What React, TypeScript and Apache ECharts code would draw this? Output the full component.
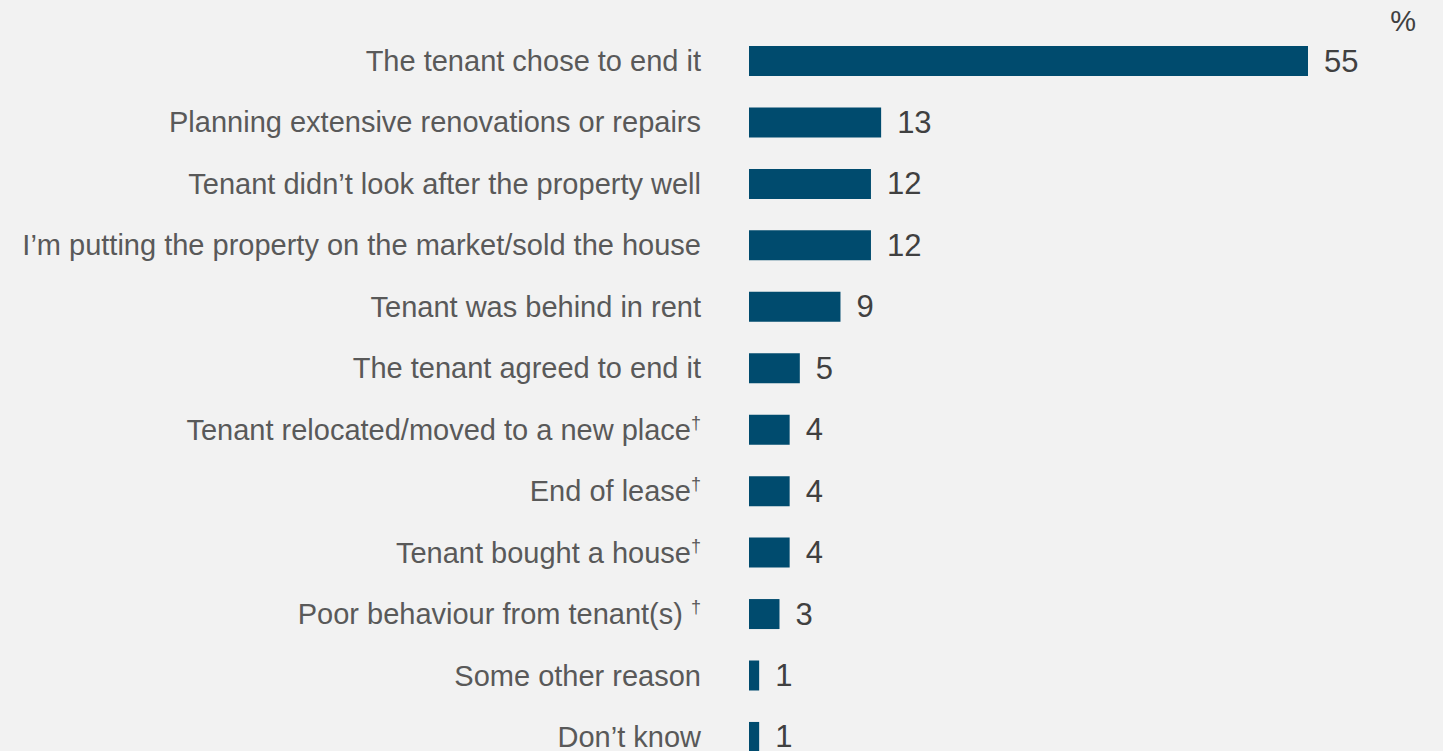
import React, { useEffect, useRef } from "react";
import * as echarts from "echarts";

const categories = [
  "The tenant chose to end it",
  "Planning extensive renovations or repairs",
  "Tenant didn’t look after the property well",
  "I’m putting the property on the market/sold the house",
  "Tenant was behind in rent",
  "The tenant agreed to end it",
  "Tenant relocated/moved to a new place{sup|†}",
  "End of lease{sup|†}",
  "Tenant bought a house{sup|†}",
  "Poor behaviour from tenant(s) {sup|†}",
  "Some other reason",
  "Don’t know",
];
const values = [55, 13, 12, 12, 9, 5, 4, 4, 4, 3, 1, 1];

export default function App() {
  const ref = useRef<HTMLDivElement>(null);
  useEffect(() => {
    if (!ref.current) return;
    const chart = echarts.init(ref.current, undefined, { renderer: "svg" });
    const rowH = 61.45;
    chart.setOption({
      animation: false,
      backgroundColor: "#f2f2f2",
      grid: { left: 749, top: 61 - rowH / 2, height: rowH * 12, width: 559 },
      xAxis: {
        type: "value",
        min: 0,
        max: 55,
        show: false,
      },
      yAxis: {
        type: "category",
        inverse: true,
        data: categories,
        axisLine: { show: false },
        axisTick: { show: false },
        splitLine: { show: false },
        axisLabel: {
          margin: 48,
          color: "#595959",
          fontFamily: "Liberation Sans, Arial, sans-serif",
          fontSize: 29,
          rich: {
            sup: {
              fontSize: 18,
              color: "#595959",
              fontFamily: "Liberation Sans, Arial, sans-serif",
              verticalAlign: "top",
              padding: [0, 0, 14, 0],
            },
          },
        },
      },
      series: [
        {
          type: "bar",
          data: values,
          barWidth: 30,
          itemStyle: { color: "#004b6e" },
          label: {
            show: true,
            position: "right",
            distance: 16,
            color: "#404040",
            fontFamily: "Liberation Sans, Arial, sans-serif",
            fontSize: 31,
          },
        },
      ],
      graphic: [
        {
          type: "text",
          right: 27,
          top: 6,
          style: {
            text: "%",
            fill: "#404040",
            font: "29px 'Liberation Sans', Arial, sans-serif",
          },
        },
      ],
    });
    return () => chart.dispose();
  }, []);
  return (
    <div
      ref={ref}
      style={{ position: "fixed", left: 0, top: 0, width: 1443, height: 800 }}
    />
  );
}
